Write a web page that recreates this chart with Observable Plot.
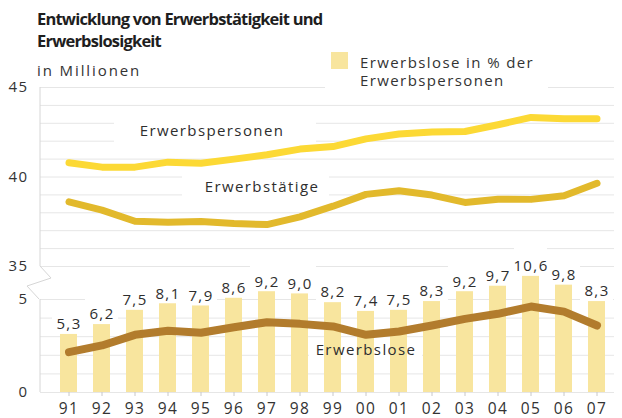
<!DOCTYPE html>
<html>
<head>
<meta charset="utf-8">
<script src="https://cdn.jsdelivr.net/npm/d3@7"></script>
<script src="https://cdn.jsdelivr.net/npm/@observablehq/plot@0.6"></script>
<style>
  body { margin: 0; background: #fff; }
  #wrap { position: relative; width: 622px; height: 418px; overflow: hidden; font-family: 'Open Sans', sans-serif; color: #1e1e1e; background: #fff; }
  .layer { position: absolute; left: 0; top: 0; }
  .layer svg { background: transparent !important; }
  .title { position: absolute; left: 37px; top: 8px; font-weight: 700; font-size: 16.5px; line-height: 22px; letter-spacing: -0.8px; white-space: nowrap; }
  .subtitle { position: absolute; left: 37px; top: 61px; font-size: 15px; line-height: 18px; letter-spacing: 1.9px; color: #333; white-space: nowrap; }
  .legend { position: absolute; left: 325px; top: 47px; width: 223px; height: 45px; background: #fff; }
  .legend .sw { position: absolute; left: 6px; top: 5px; width: 17px; height: 17px; background: #f8e59e; }
  .legend .lt { position: absolute; left: 35px; top: 6px; font-size: 15px; line-height: 18px; letter-spacing: 1.4px; color: #333; white-space: nowrap; }
</style>
</head>
<body>
<div id="wrap">
  <div id="upper" class="layer"></div>
  <div id="lower" class="layer"></div>
  <div class="title">Entwicklung von Erwerbstätigkeit und<br>Erwerbslosigkeit</div>
  <div class="subtitle">in Millionen</div>
  <div class="legend"><div class="sw"></div><div class="lt">Erwerbslose in % der<br>Erwerbspersonen</div></div>
</div>
<script>
// ---- data ----
const years = ["91","92","93","94","95","96","97","98","99","00","01","02","03","04","05","06","07"];
const erwerbspersonen = [40.80, 40.55, 40.55, 40.83, 40.77, 41.00, 41.24, 41.56, 41.70, 42.13, 42.40, 42.51, 42.54, 42.92, 43.33, 43.26, 43.26];
const erwerbstaetige  = [38.61, 38.15, 37.53, 37.47, 37.51, 37.40, 37.34, 37.77, 38.37, 39.03, 39.23, 38.99, 38.58, 38.76, 38.75, 38.95, 39.65];
const erwerbslose     = [2.17, 2.53, 3.10, 3.32, 3.21, 3.51, 3.78, 3.69, 3.55, 3.10, 3.28, 3.60, 3.96, 4.23, 4.62, 4.35, 3.60];
const quote           = [5.3, 6.2, 7.5, 8.1, 7.9, 8.6, 9.2, 9.0, 8.2, 7.4, 7.5, 8.3, 9.2, 9.7, 10.6, 9.8, 8.3];
const upperTicks = [35, 40, 45];
const lowerTicks = [0, 5];
const upperGrid = [35, 36, 37, 38, 39, 40, 41, 42, 43, 44, 45];
const lowerGrid = [0, 1, 2, 3, 4, 5];
const seriesLabels = ["Erwerbspersonen", "Erwerbstätige", "Erwerbslose"];

// Quote (in %) drawn on the lower panel's million scale
const K = 0.589;

const data = years.map((year, i) => ({
  year, ep: erwerbspersonen[i], et: erwerbstaetige[i], el: erwerbslose[i], q: quote[i]
}));

const grid = "#e6e6e6";
const axisColor = "#d6d6d6";
const ink = "#2e2e2e";
const style = "font-family:'Open Sans',sans-serif;font-size:15px;letter-spacing:1.4px;color:#333;background:transparent;";
const xOpts = {type: "band", domain: years, range: [36, 629], padding: 0.47};

function upperAxisLine(index, scales, values, dimensions) {
  const y = scales.y, x0 = dimensions.marginLeft, t = y(35);
  const d = `M${x0},${y(45)}V${t}L${x0 + 11},${t + 12}L${x0 - 13},${t + 20}L${x0 - 1},${t + 33}`;
  const g = d3.create("svg:g");
  g.append("path").attr("d", d).attr("fill", "none").attr("stroke", axisColor);
  return g.node();
}
function lowerAxisLine(index, scales, values, dimensions) {
  const y = scales.y, x0 = dimensions.marginLeft;
  const g = d3.create("svg:g");
  g.append("path").attr("d", `M${x0},${y(5)}V${y(0)}`).attr("fill", "none").attr("stroke", axisColor);
  return g.node();
}

const upper = Plot.plot({
  width: 622, height: 418,
  marginLeft: 40, marginRight: 8, marginTop: 87, marginBottom: 152,
  style,
  x: {...xOpts, axis: null},
  y: {domain: [35, 45]},
  marks: [
    Plot.ruleY(upperGrid, {stroke: grid}),
    Plot.barY([{year: "95"}], {x: "year", y1: 41.4, y2: 43.4, fill: "white", insetLeft: -78, insetRight: -107}),
    Plot.barY([{year: "97"}], {x: "year", y1: 38.6, y2: 40.4, fill: "white", insetLeft: -76, insetRight: -54}),
    upperAxisLine,
    Plot.line(data, {x: "year", y: "ep", stroke: "#fcd935", strokeWidth: 7, strokeLinecap: "round", strokeLinejoin: "round"}),
    Plot.line(data, {x: "year", y: "et", stroke: "#e2b92c", strokeWidth: 7, strokeLinecap: "round", strokeLinejoin: "round"}),
    Plot.text([seriesLabels[0]], {x: () => "95", y: () => 42.55, text: d => d, dx: 11, fontSize: 15, fill: ink}),
    Plot.text([seriesLabels[1]], {x: () => "97", y: () => 39.42, text: d => d, dx: -5, fontSize: 15, fill: ink}),
    Plot.axisY({ticks: upperTicks, tickFormat: d => String(d), tickSize: 0, tickPadding: 12, fontSize: 15, fill: "#333", label: null})
  ]
});

const lower = Plot.plot({
  width: 622, height: 418,
  marginLeft: 40, marginRight: 8, marginTop: 299, marginBottom: 26,
  style,
  x: xOpts,
  y: {domain: [0, 5]},
  marks: [
    Plot.ruleY(lowerGrid, {stroke: grid}),
    // white knockouts behind the value labels and the series label
    Plot.barY(data, {x: "year", y1: d => d.q * K, y2: d => d.q * K, fill: "white", insetTop: -30, insetLeft: -8, insetRight: -8}),
    Plot.barY([{year: "00"}], {x: "year", y1: 1.6, y2: 2.45, fill: "white", insetLeft: -48, insetRight: -48}),
    lowerAxisLine,
    Plot.barY(data, {x: "year", y: d => d.q * K, fill: "#f8e59e"}),
    Plot.line(data, {x: "year", y: "el", stroke: "#b27c2d", strokeWidth: 8, strokeLinecap: "round", strokeLinejoin: "round"}),
    Plot.text(data, {x: "year", y: d => d.q * K, text: d => d.q.toFixed(1).replace(".", ","), dy: -10, fontSize: 15, fill: ink}),
    Plot.text([seriesLabels[2]], {x: () => "00", y: () => 2.30, text: d => d, dx: 0, fontSize: 15, fill: ink}),
    Plot.axisY({ticks: lowerTicks, tickFormat: d => String(d), tickSize: 0, tickPadding: 12, fontSize: 15, fill: "#333", label: null}),
    Plot.axisX({tickSize: 4, tickPadding: 6, stroke: "#c8c8c8", fontSize: 15.5, fill: "#333", label: null})
  ]
});

upper.style.background = "transparent";
lower.style.background = "transparent";
document.getElementById("upper").appendChild(upper);
document.getElementById("lower").appendChild(lower);
</script>
</body>
</html>
